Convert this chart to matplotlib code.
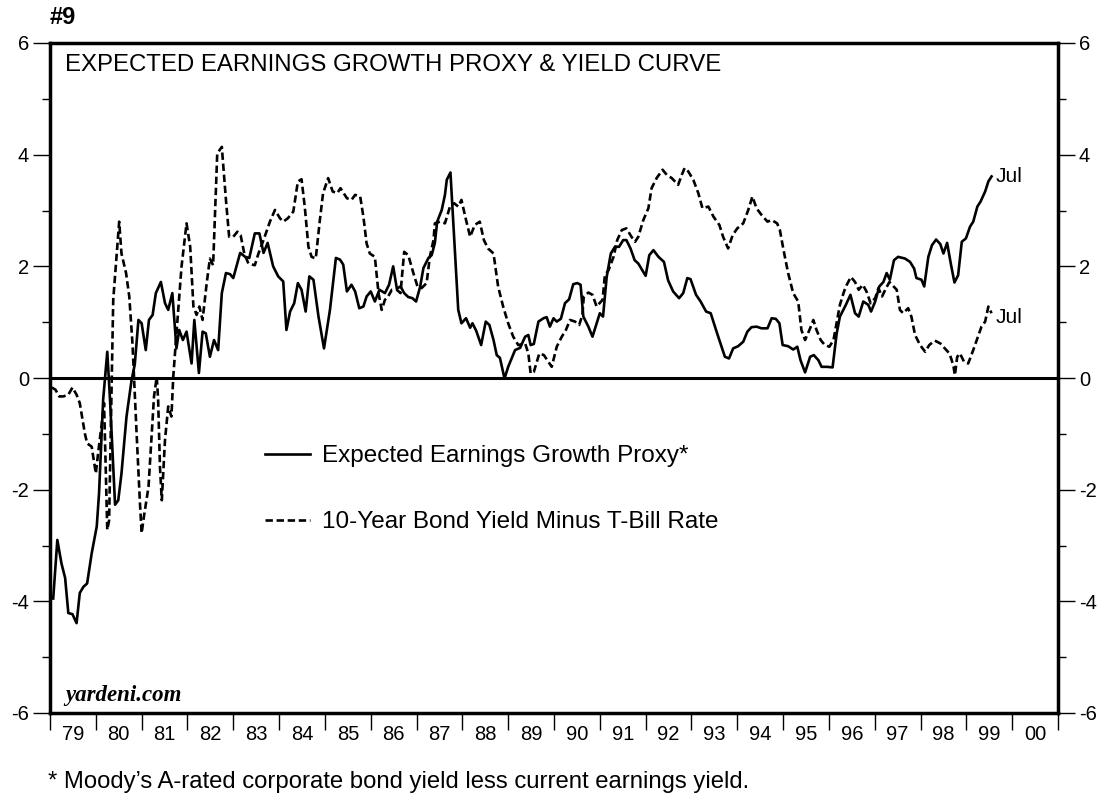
import matplotlib
matplotlib.use("Agg")
import matplotlib.pyplot as plt
from matplotlib.ticker import MultipleLocator, FixedLocator, NullFormatter, FixedFormatter

plt.rcParams['font.family'] = ['Liberation Sans', 'DejaVu Sans']
plt.rcParams['axes.unicode_minus'] = False

# Expected earnings growth proxy (solid), decimal years / percent
growth_t = [
    1979.07, 1979.16, 1979.25, 1979.33, 1979.40, 1979.49, 1979.58, 1979.65, 1979.73, 1979.81,
    1979.91, 1980.02, 1980.07, 1980.16, 1980.25, 1980.31, 1980.42, 1980.49, 1980.56, 1980.67,
    1980.78, 1980.85, 1980.93, 1981.00, 1981.09, 1981.16, 1981.24, 1981.31, 1981.42, 1981.51,
    1981.58, 1981.67, 1981.76, 1981.82, 1981.90, 1981.98, 1982.09, 1982.15, 1982.25, 1982.33,
    1982.40, 1982.49, 1982.58, 1982.67, 1982.75, 1982.84, 1982.93, 1983.00, 1983.15, 1983.26,
    1983.35, 1983.47, 1983.57, 1983.66, 1983.75, 1983.87, 1983.98, 1984.09, 1984.16, 1984.24,
    1984.33, 1984.41, 1984.49, 1984.58, 1984.66, 1984.75, 1984.86, 1984.98, 1985.11, 1985.24,
    1985.33, 1985.40, 1985.48, 1985.58, 1985.66, 1985.75, 1985.84, 1985.91, 1986.00, 1986.09,
    1986.19, 1986.31, 1986.40, 1986.49, 1986.57, 1986.65, 1986.73, 1986.82, 1986.91, 1986.99,
    1987.08, 1987.15, 1987.26, 1987.33, 1987.40, 1987.45, 1987.55, 1987.62, 1987.66, 1987.74,
    1987.91, 1987.98, 1988.08, 1988.17, 1988.22, 1988.30, 1988.41, 1988.51, 1988.59, 1988.68,
    1988.75, 1988.82, 1988.92, 1989.00, 1989.15, 1989.26, 1989.37, 1989.44, 1989.49, 1989.56,
    1989.66, 1989.77, 1989.84, 1989.91, 1989.99, 1990.06, 1990.15, 1990.24, 1990.33, 1990.42,
    1990.51, 1990.58, 1990.64, 1990.75, 1990.84, 1990.93, 1991.00, 1991.07, 1991.15, 1991.24,
    1991.33, 1991.42, 1991.51, 1991.58, 1991.67, 1991.76, 1991.84, 1992.00, 1992.08, 1992.17,
    1992.28, 1992.40, 1992.49, 1992.60, 1992.73, 1992.82, 1992.91, 1992.98, 1993.10, 1993.20,
    1993.32, 1993.42, 1993.56, 1993.73, 1993.82, 1993.91, 1994.02, 1994.13, 1994.22, 1994.31,
    1994.42, 1994.53, 1994.66, 1994.75, 1994.84, 1994.92, 1994.99, 1995.11, 1995.22, 1995.31,
    1995.38, 1995.48, 1995.59, 1995.67, 1995.77, 1995.84, 1995.96, 1996.08, 1996.17, 1996.24,
    1996.37, 1996.47, 1996.57, 1996.65, 1996.75, 1996.86, 1996.92, 1997.01, 1997.10, 1997.19,
    1997.26, 1997.33, 1997.42, 1997.51, 1997.66, 1997.77, 1997.86, 1997.91, 1998.02, 1998.08,
    1998.17, 1998.25, 1998.34, 1998.43, 1998.50, 1998.58, 1998.66, 1998.74, 1998.82, 1998.90,
    1998.99, 1999.08, 1999.15, 1999.24, 1999.31, 1999.41, 1999.48, 1999.55,
]
growth_v = [
    -3.95, -2.90, -3.32, -3.58, -4.21, -4.23, -4.39, -3.85, -3.74, -3.68,
    -3.14, -2.66, -2.07, -0.39, 0.47, -0.39, -2.27, -2.19, -1.71, -0.69,
    -0.04, 0.24, 1.04, 0.98, 0.50, 1.04, 1.13, 1.52, 1.72, 1.34,
    1.22, 1.52, 0.53, 0.86, 0.68, 0.83, 0.26, 1.04, 0.09, 0.83,
    0.80, 0.38, 0.68, 0.50, 1.52, 1.88, 1.86, 1.79, 2.24, 2.17,
    2.15, 2.59, 2.59, 2.24, 2.42, 2.00, 1.82, 1.73, 0.86, 1.19,
    1.34, 1.70, 1.58, 1.19, 1.82, 1.76, 1.10, 0.53, 1.22, 2.15,
    2.12, 2.03, 1.55, 1.67, 1.55, 1.25, 1.28, 1.46, 1.55, 1.37,
    1.58, 1.52, 1.67, 2.00, 1.60, 1.64, 1.52, 1.45, 1.43, 1.37,
    1.64, 1.97, 2.15, 2.20, 2.42, 2.80, 3.01, 3.28, 3.55, 3.68,
    1.22, 0.98, 1.07, 0.90, 0.98, 0.85, 0.59, 1.01, 0.95, 0.68,
    0.41, 0.36, -0.01, 0.20, 0.50, 0.54, 0.74, 0.77, 0.59, 0.61,
    1.01, 1.07, 1.09, 0.92, 1.07, 1.01, 1.06, 1.34, 1.41, 1.68,
    1.70, 1.67, 1.10, 0.92, 0.74, 0.98, 1.16, 1.10, 1.81, 2.23,
    2.35, 2.35, 2.47, 2.47, 2.32, 2.11, 2.05, 1.83, 2.20, 2.29,
    2.17, 2.08, 1.75, 1.55, 1.43, 1.52, 1.79, 1.77, 1.49, 1.37,
    1.19, 1.16, 0.80, 0.38, 0.35, 0.53, 0.57, 0.65, 0.83, 0.91,
    0.92, 0.89, 0.89, 1.07, 1.06, 0.98, 0.59, 0.57, 0.51, 0.56,
    0.32, 0.10, 0.38, 0.41, 0.32, 0.20, 0.20, 0.19, 0.80, 1.10,
    1.31, 1.49, 1.16, 1.10, 1.37, 1.31, 1.19, 1.37, 1.64, 1.72,
    1.88, 1.76, 2.11, 2.17, 2.14, 2.08, 1.96, 1.79, 1.76, 1.64,
    2.17, 2.38, 2.48, 2.40, 2.23, 2.42, 2.05, 1.71, 1.84, 2.44,
    2.50, 2.71, 2.80, 3.07, 3.16, 3.34, 3.52, 3.61,
]

# 10-year bond yield minus T-bill rate (dashed)
spread_t = [
    1979.04, 1979.12, 1979.20, 1979.29, 1979.40, 1979.49, 1979.58, 1979.65, 1979.76, 1979.81,
    1979.91, 1980.00, 1980.05, 1980.13, 1980.18, 1980.25, 1980.29, 1980.38, 1980.51, 1980.56,
    1980.66, 1980.73, 1980.80, 1980.89, 1980.96, 1981.00, 1981.05, 1981.15, 1981.22, 1981.27,
    1981.33, 1981.36, 1981.40, 1981.44, 1981.51, 1981.58, 1981.65, 1981.69, 1981.76, 1981.87,
    1981.98, 1982.06, 1982.13, 1982.20, 1982.26, 1982.33, 1982.42, 1982.49, 1982.56, 1982.65,
    1982.75, 1982.84, 1982.91, 1983.00, 1983.09, 1983.16, 1983.24, 1983.33, 1983.47, 1983.55,
    1983.66, 1983.80, 1983.91, 1984.02, 1984.09, 1984.19, 1984.31, 1984.41, 1984.49, 1984.56,
    1984.64, 1984.71, 1984.80, 1984.89, 1984.96, 1985.07, 1985.17, 1985.27, 1985.34, 1985.48,
    1985.58, 1985.66, 1985.77, 1985.84, 1985.91, 1985.98, 1986.09, 1986.17, 1986.24, 1986.31,
    1986.38, 1986.46, 1986.57, 1986.65, 1986.73, 1986.82, 1986.93, 1987.02, 1987.11, 1987.22,
    1987.29, 1987.37, 1987.40, 1987.51, 1987.62, 1987.73, 1987.82, 1987.91, 1987.98, 1988.08,
    1988.17, 1988.27, 1988.38, 1988.47, 1988.56, 1988.68, 1988.78, 1988.89, 1989.00, 1989.11,
    1989.22, 1989.37, 1989.44, 1989.49, 1989.56, 1989.68, 1989.78, 1989.90, 1989.95, 1990.06,
    1990.17, 1990.26, 1990.35, 1990.46, 1990.55, 1990.62, 1990.65, 1990.75, 1990.84, 1990.93,
    1991.06, 1991.11, 1991.19, 1991.30, 1991.38, 1991.48, 1991.58, 1991.69, 1991.77, 1991.84,
    1991.95, 1992.06, 1992.13, 1992.24, 1992.37, 1992.46, 1992.57, 1992.71, 1992.79, 1992.85,
    1992.93, 1993.04, 1993.15, 1993.24, 1993.37, 1993.48, 1993.61, 1993.69, 1993.80, 1993.90,
    1994.00, 1994.13, 1994.24, 1994.33, 1994.42, 1994.53, 1994.66, 1994.75, 1994.87, 1994.93,
    1995.01, 1995.11, 1995.22, 1995.33, 1995.40, 1995.48, 1995.59, 1995.66, 1995.73, 1995.82,
    1995.91, 1996.01, 1996.10, 1996.18, 1996.24, 1996.33, 1996.39, 1996.48, 1996.57, 1996.65,
    1996.74, 1996.82, 1996.91, 1997.01, 1997.08, 1997.16, 1997.23, 1997.32, 1997.41, 1997.48,
    1997.55, 1997.62, 1997.73, 1997.80, 1997.88, 1997.99, 1998.10, 1998.19, 1998.31, 1998.43,
    1998.53, 1998.63, 1998.68, 1998.72, 1998.75, 1998.80, 1998.86, 1998.95, 1999.04, 1999.15,
    1999.24, 1999.33, 1999.41, 1999.48, 1999.55,
]
spread_v = [
    -0.17, -0.21, -0.33, -0.33, -0.30, -0.17, -0.30, -0.45, -0.99, -1.17,
    -1.23, -1.71, -1.35, -0.81, -0.45, -2.72, -2.55, 1.40, 2.80, 2.23,
    1.88, 1.46, 0.62, -0.99, -2.19, -2.78, -2.48, -1.95, -0.99, -0.33,
    0.02, -0.39, -1.59, -2.19, -1.11, -0.51, -0.69, 0.02, 0.80, 1.99,
    2.77, 2.35, 1.28, 1.13, 1.28, 1.04, 1.70, 2.14, 2.02, 4.02,
    4.14, 3.19, 2.53, 2.53, 2.62, 2.56, 2.23, 2.05, 2.02, 2.23,
    2.47, 2.80, 3.01, 2.86, 2.80, 2.86, 2.98, 3.52, 3.56, 3.07,
    2.35, 2.17, 2.14, 2.83, 3.31, 3.58, 3.34, 3.31, 3.40, 3.22,
    3.19, 3.28, 3.25, 2.89, 2.41, 2.23, 2.17, 1.52, 1.22, 1.40,
    1.46, 1.58, 1.58, 1.52, 2.26, 2.20, 1.88, 1.64, 1.61, 1.70,
    2.17, 2.47, 2.77, 2.80, 2.77, 3.07, 3.13, 3.07, 3.19, 2.83,
    2.53, 2.74, 2.80, 2.47, 2.32, 2.23, 1.64, 1.28, 0.98, 0.74,
    0.59, 0.62, 0.44, 0.08, 0.11, 0.44, 0.41, 0.26, 0.20, 0.56,
    0.74, 0.86, 1.04, 1.01, 0.95, 1.13, 1.46, 1.53, 1.49, 1.28,
    1.40, 1.84, 1.93, 2.17, 2.47, 2.65, 2.68, 2.53, 2.44, 2.53,
    2.83, 3.04, 3.40, 3.58, 3.73, 3.64, 3.58, 3.46, 3.64, 3.76,
    3.70, 3.55, 3.31, 3.04, 3.07, 2.89, 2.74, 2.53, 2.32, 2.56,
    2.68, 2.77, 3.01, 3.25, 3.04, 2.92, 2.80, 2.83, 2.77, 2.65,
    2.29, 1.88, 1.52, 1.37, 0.86, 0.68, 0.89, 1.04, 0.86, 0.68,
    0.59, 0.56, 0.68, 1.04, 1.31, 1.55, 1.67, 1.81, 1.72, 1.58,
    1.67, 1.55, 1.34, 1.43, 1.61, 1.46, 1.58, 1.72, 1.64, 1.58,
    1.22, 1.16, 1.25, 1.10, 0.77, 0.59, 0.47, 0.59, 0.67, 0.62,
    0.53, 0.44, 0.32, 0.20, 0.05, 0.38, 0.44, 0.29, 0.26, 0.50,
    0.71, 0.92, 1.01, 1.28, 1.16,
]

years = list(range(1979, 2001))
year_labels = ["%02d" % (y % 100) for y in years]

fig = plt.figure(figsize=(11.08, 7.97), dpi=100)
ax = fig.add_axes([50 / 1108, 84 / 797, 1008 / 1108, 670 / 797])

ax.plot(growth_t, growth_v, color='black', lw=1.9,
        label='Expected Earnings Growth Proxy*')
ax.plot(spread_t, spread_v, color='black', lw=1.9, dashes=(2.8, 1.4),
        label='10-Year Bond Yield Minus T-Bill Rate')
ax.axhline(0, color='black', lw=2.2)

ax.set_xlim(1979, 2001)
ax.set_ylim(-6, 6)

for s in ax.spines.values():
    s.set_linewidth(2.5)

# y axis: both sides
ax.yaxis.set_major_locator(MultipleLocator(2))
ax.yaxis.set_minor_locator(MultipleLocator(1))
ax.tick_params(axis='y', which='major', direction='out', length=12, width=1,
               labelsize=14.5, left=True, right=True, labelleft=True, labelright=True, pad=3)
ax.tick_params(axis='y', which='minor', direction='out', length=6, width=1,
               left=True, right=True)

# x axis: ticks at year boundaries, labels in between
ax.xaxis.set_major_locator(FixedLocator(years + [2001]))
ax.xaxis.set_major_formatter(NullFormatter())
ax.xaxis.set_minor_locator(FixedLocator([y + 0.5 for y in years]))
ax.xaxis.set_minor_formatter(FixedFormatter(year_labels))
ax.tick_params(axis='x', which='major', direction='out', length=12, width=1)
ax.tick_params(axis='x', which='minor', length=0, labelsize=14.5, pad=9)

ax.text(0.015, 0.983, 'EXPECTED EARNINGS GROWTH PROXY & YIELD CURVE',
        transform=ax.transAxes, fontsize=17.3, va='top', ha='left')
ax.text(0.015, 0.01, 'yardeni.com', transform=ax.transAxes, fontsize=16.5,
        fontweight='bold', fontstyle='italic', family=['Liberation Serif', 'DejaVu Serif'],
        va='bottom', ha='left')

ax.annotate('Jul', xy=(growth_t[-1], growth_v[-1]), xytext=(3, 0),
            textcoords='offset points', fontsize=15, va='center')
ax.annotate('Jul', xy=(spread_t[-1], spread_v[-1]), xytext=(3, -3),
            textcoords='offset points', fontsize=15, va='center')

ax.legend(loc='center left', bbox_to_anchor=(0.2133, 0.334), frameon=False, fontsize=17.5,
          handlelength=1.85, handletextpad=0.5, labelspacing=1.8,
          borderpad=0, borderaxespad=0)

fig.text(50 / 1108, 1 - 18 / 797, '#9', fontsize=17, fontweight='bold', va='center', ha='left')
fig.text(48 / 1108, 1 - 782 / 797, "* Moody\u2019s A-rated corporate bond yield less current earnings yield.",
         fontsize=17.2, va='center', ha='left')

fig.savefig('out.png', dpi=100)
